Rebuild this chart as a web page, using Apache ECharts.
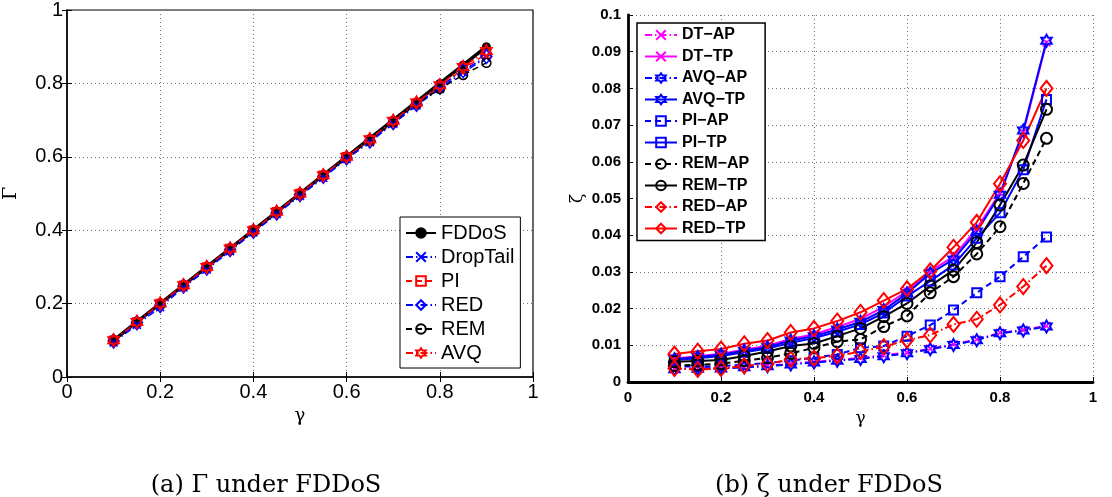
<!DOCTYPE html>
<html><head><meta charset="utf-8">
<script src="https://cdn.jsdelivr.net/npm/echarts@6/dist/echarts.min.js"></script>
<style>html,body{margin:0;padding:0;background:#fff}#c{width:1112px;height:497px}</style>
</head><body><div id="c"></div>
<script>
// ---------- data ----------
const gamma = [0.10,0.15,0.20,0.25,0.30,0.35,0.40,0.45,0.50,0.55,0.60,0.65,0.70,0.75,0.80,0.85,0.90];
// (a) Gamma under FDDoS
const gFDDoS    = [0.100,0.150,0.200,0.250,0.300,0.350,0.400,0.450,0.500,0.550,0.600,0.650,0.700,0.750,0.800,0.850,0.900];
const gDropTail = [0.094,0.142,0.190,0.244,0.293,0.343,0.394,0.444,0.493,0.543,0.594,0.640,0.690,0.740,0.785,0.830,0.870];
const gPI       = [0.100,0.150,0.200,0.250,0.300,0.350,0.400,0.450,0.500,0.550,0.600,0.645,0.695,0.745,0.790,0.840,0.880];
const gRED      = [0.098,0.148,0.195,0.248,0.297,0.347,0.397,0.447,0.497,0.547,0.597,0.643,0.693,0.743,0.790,0.835,0.873];
const gREM      = [0.100,0.150,0.200,0.250,0.300,0.350,0.400,0.450,0.500,0.550,0.600,0.645,0.695,0.745,0.785,0.823,0.856];
const gAVQ      = [0.100,0.150,0.200,0.250,0.300,0.350,0.400,0.450,0.500,0.550,0.600,0.648,0.698,0.748,0.795,0.845,0.888];
// (b) zeta under FDDoS
const zDTAP  = [0.0036,0.0037,0.0038,0.0041,0.0044,0.0050,0.0055,0.0060,0.0066,0.0073,0.0080,0.0091,0.0103,0.0116,0.0134,0.0142,0.0153];
const zDTTP  = [0.0064,0.0070,0.0077,0.0088,0.0099,0.0117,0.0130,0.0150,0.0172,0.0205,0.0248,0.0302,0.0342,0.0418,0.0515,0.0680,0.0925];
const zAVQAP = [0.0035,0.0036,0.0037,0.0040,0.0043,0.0048,0.0053,0.0058,0.0063,0.0070,0.0078,0.0089,0.0101,0.0114,0.0133,0.0140,0.0151];
const zAVQTP = [0.0062,0.0068,0.0074,0.0085,0.0095,0.0113,0.0125,0.0143,0.0164,0.0196,0.0242,0.0296,0.0334,0.0410,0.0510,0.0685,0.0930];
const zPIAP  = [0.0042,0.0042,0.0043,0.0047,0.0052,0.0058,0.0066,0.0075,0.0093,0.0098,0.0125,0.0155,0.0196,0.0243,0.0287,0.0341,0.0395];
const zPITP  = [0.0060,0.0065,0.0071,0.0081,0.0091,0.0107,0.0120,0.0137,0.0157,0.0188,0.0234,0.0275,0.0319,0.0392,0.0461,0.0578,0.0770];
const zREMAP = [0.0045,0.0047,0.0050,0.0058,0.0066,0.0078,0.0093,0.0110,0.0116,0.0151,0.0180,0.0243,0.0287,0.0349,0.0423,0.0541,0.0664];
const zREMTP = [0.0055,0.0057,0.0060,0.0071,0.0083,0.0098,0.0105,0.0125,0.0146,0.0178,0.0214,0.0262,0.0305,0.0380,0.0482,0.0591,0.0743];
const zREDAP = [0.0037,0.0034,0.0037,0.0044,0.0049,0.0062,0.0065,0.0071,0.0083,0.0096,0.0114,0.0128,0.0157,0.0171,0.0210,0.0260,0.0317];
const zREDTP = [0.0076,0.0084,0.0090,0.0104,0.0113,0.0135,0.0146,0.0166,0.0190,0.0222,0.0254,0.0303,0.0367,0.0435,0.0540,0.0658,0.0800];
const legendA = ['FDDoS','DropTail','PI','RED','REM','AVQ'];
const legendB = ['DT−AP','DT−TP','AVQ−AP','AVQ−TP','PI−AP','PI−TP','REM−AP','REM−TP','RED−AP','RED−TP'];
const captionA = '(a) Γ under FDDoS';
const captionB = '(b) ζ under FDDoS';

// ---------- styling ----------
const HEX = 'path://M0,-10L2.887,-5L8.66,-5L5.774,0L8.66,5L2.887,5L0,10L-2.887,5L-8.66,5L-5.774,0L-8.66,-5L-2.887,-5Z';
const XM = 'path://M-5,-5L5,5M-5,5L5,-5';
const DASHDOT = [7,3,1.5,3];
const DASHED = [6,4];
const T = 'rgba(0,0,0,0)';
const pairs = v => gamma.map((g,i)=>[g, v[i]]);

function mk(name, vals, color, dash, symbol, size, width, idx, filled, bw) {
  return {
    name, type:'line', data: pairs(vals), xAxisIndex: idx, yAxisIndex: idx,
    symbol, symbolSize: size, symbolKeepAspect: true, showSymbol: true,
    animation: false, z: 2,
    lineStyle: { color, width, type: dash },
    itemStyle: { color: filled ? color : T, borderColor: color, borderWidth: bw || 1.5 },
    emphasis: { disabled: true }
  };
}

const fmt = v => String(+v.toFixed(2));
const gridDot = { show: true, lineStyle: { color: '#777', width: 1, type: [1,3] } };
const mirror = { show: false };

const option = {
  backgroundColor: '#fff',
  animation: false,
  grid: [
    { left: 67, top: 10, width: 466, height: 367, show: true, borderColor: '#000', borderWidth: 1.2, backgroundColor: 'transparent' },
    { left: 628, top: 15, width: 465, height: 367 }
  ],
  xAxis: [
    { gridIndex: 0, type: 'value', min: 0, max: 1, interval: 0.2,
      axisLine: { show: true, onZero: false, lineStyle: { color: '#000', width: 1.5 } },
      axisTick: { show: true, inside: true, length: 5, lineStyle: { color: '#000' } },
      axisLabel: { formatter: fmt, color: '#000', fontFamily: 'Liberation Sans', fontSize: 20, margin: 5 },
      splitLine: gridDot,
      name: 'γ', nameLocation: 'middle', nameGap: 25,
      nameTextStyle: { fontFamily: 'DejaVu Serif', fontSize: 18, color: '#000' } },
    { gridIndex: 1, type: 'value', min: 0, max: 1, interval: 0.2,
      axisLine: { show: true, onZero: false, lineStyle: { color: '#000', width: 2.8 } },
      axisTick: { show: true, inside: true, length: 5, lineStyle: { color: '#000', width: 1 } },
      axisLabel: { formatter: fmt, color: '#000', fontFamily: 'Liberation Sans', fontWeight: 'bold', fontSize: 15, margin: 8 },
      splitLine: gridDot,
      name: 'γ', nameLocation: 'middle', nameGap: 27,
      nameTextStyle: { fontFamily: 'DejaVu Serif', fontSize: 17, color: '#000' } },
    { gridIndex: 0, type: 'value', min: 0, max: 1, interval: 0.2, position: 'top',
      axisLine: mirror, axisLabel: mirror, splitLine: mirror,
      axisTick: { show: true, inside: true, length: 5, lineStyle: { color: '#000' } } }
  ],
  yAxis: [
    { gridIndex: 0, type: 'value', min: 0, max: 1, interval: 0.2,
      axisLine: { show: true, onZero: false, lineStyle: { color: '#000', width: 1.5 } },
      axisTick: { show: true, inside: true, length: 5, lineStyle: { color: '#000' } },
      axisLabel: { formatter: fmt, color: '#000', fontFamily: 'Liberation Sans', fontSize: 20, margin: 4 },
      splitLine: gridDot,
      name: 'Γ', nameLocation: 'middle', nameGap: 46, nameRotate: 90,
      nameTextStyle: { fontFamily: 'DejaVu Serif', fontSize: 19, color: '#000' } },
    { gridIndex: 1, type: 'value', min: 0, max: 0.1, interval: 0.01,
      axisLine: { show: true, onZero: false, lineStyle: { color: '#000', width: 2.8 } },
      axisTick: { show: true, inside: true, length: 5, lineStyle: { color: '#000', width: 1 } },
      axisLabel: { formatter: fmt, color: '#000', fontFamily: 'Liberation Sans', fontWeight: 'bold', fontSize: 15, margin: 7 },
      splitLine: gridDot,
      name: 'ζ', nameLocation: 'middle', nameGap: 42, nameRotate: 90,
      nameTextStyle: { fontFamily: 'DejaVu Serif', fontSize: 17, color: '#000' } },
    { gridIndex: 0, type: 'value', min: 0, max: 1, interval: 0.2, position: 'right',
      axisLine: mirror, axisLabel: mirror, splitLine: mirror,
      axisTick: { show: true, inside: true, length: 5, lineStyle: { color: '#000' } } }
  ],
  legend: [
    { data: legendA,
      orient: 'vertical', left: 400, top: 217,
      backgroundColor: '#fff', borderColor: '#000', borderWidth: 1,
      padding: [6, 6, 5, 5], itemGap: 4, itemWidth: 30, itemHeight: 12,
      textStyle: { fontFamily: 'Liberation Sans', fontSize: 20, lineHeight: 18, color: '#000' },
      selectedMode: false },
    { data: legendB,
      orient: 'vertical', left: 637, top: 23,
      backgroundColor: '#fff', borderColor: '#000', borderWidth: 1.5,
      padding: [4, 16, 4, 7], itemGap: 5.5, itemWidth: 32, itemHeight: 12,
      textStyle: { fontFamily: 'Liberation Sans', fontSize: 16, fontWeight: 'bold', lineHeight: 15, color: '#000' },
      selectedMode: false }
  ],
  graphic: [
    { type: 'text', style: { text: captionA, font: '24px "DejaVu Serif"', fill: '#000', x: 266, y: 486, align: 'center', verticalAlign: 'middle' } },
    { type: 'text', style: { text: captionB, font: '24px "DejaVu Serif"', fill: '#000', x: 829, y: 486, align: 'center', verticalAlign: 'middle' } }
  ],
  series: [
    mk('FDDoS',    gFDDoS,    '#000', 'solid', 'circle', 8, 3.5, 0, true, 1),
    mk('DropTail', gDropTail, '#0000ff', DASHDOT, XM, 8, 1.5, 0, false, 1.5),
    mk('PI',       gPI,       '#ff0000', DASHED, 'rect', 8, 1.5, 0, false, 1.5),
    mk('RED',      gRED,      '#0000ff', DASHDOT, 'diamond', [11,14], 1.5, 0, false, 1.5),
    mk('REM',      gREM,      '#000', DASHED, 'circle', 9, 1.5, 0, false, 1.5),
    mk('AVQ',      gAVQ,      '#ff0000', DASHDOT, HEX, 12, 1.5, 0, false, 2),

    mk('DT−AP',  zDTAP,  '#ff00ff', DASHDOT, XM, 8, 2, 1, false, 1.5),
    mk('DT−TP',  zDTTP,  '#ff00ff', 'solid', XM, 8, 2, 1, false, 1.5),
    mk('AVQ−AP', zAVQAP, '#0000ff', DASHDOT, HEX, 12, 2, 1, false, 2),
    mk('AVQ−TP', zAVQTP, '#0000ff', 'solid', HEX, 12, 2, 1, false, 2),
    mk('PI−AP',  zPIAP,  '#0000ff', DASHED, 'rect', 9, 2, 1, false, 2),
    mk('PI−TP',  zPITP,  '#0000ff', 'solid', 'rect', 9, 2, 1, false, 2),
    mk('REM−AP', zREMAP, '#000', DASHED, 'circle', 11, 2, 1, false, 2),
    mk('REM−TP', zREMTP, '#000', 'solid', 'circle', 11, 2, 1, false, 2),
    mk('RED−AP', zREDAP, '#ff0000', DASHDOT, 'diamond', [12,15], 2, 1, false, 2),
    mk('RED−TP', zREDTP, '#ff0000', 'solid', 'diamond', [12,15], 2, 1, false, 2)
  ]
};
const chart = echarts.init(document.getElementById('c'), null, { renderer: 'canvas' });
chart.setOption(option);
</script></body></html>
